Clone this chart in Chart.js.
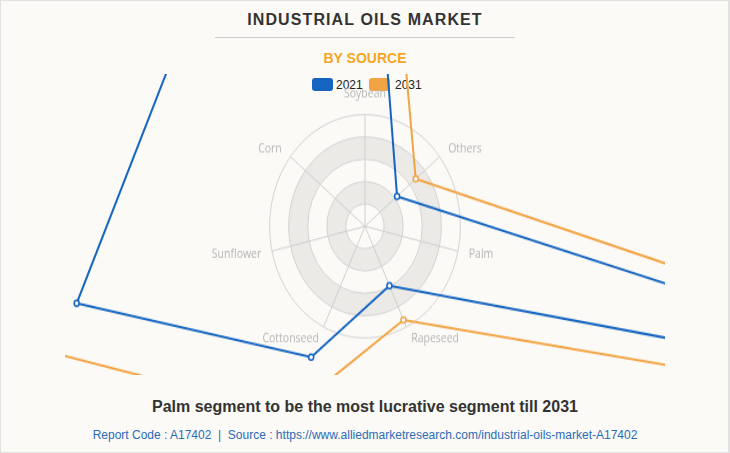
<!DOCTYPE html>
<html>
<head>
<meta charset="utf-8">
<script src="https://cdn.jsdelivr.net/npm/chart.js@4"></script>
<style>
  html, body { margin: 0; padding: 0; }
  body { width: 730px; height: 453px; background: #fbfaf6; font-family: Arial, "Liberation Sans", sans-serif; position: relative; overflow: hidden; }
  .frame { position: absolute; left: 0; top: 0; width: 727px; height: 451px; border: 1px solid #e2e2e2; border-right-width: 2px; }
  .title { position: absolute; left: 0; width: 730px; top: 11px; text-align: center; font-size: 16px; font-weight: bold; letter-spacing: 1.1px; color: #333; }
  .rule { position: absolute; left: 215px; width: 300px; top: 37px; border-top: 1px solid #ccc; }
  .sub { position: absolute; left: 0; width: 730px; top: 50px; text-align: center; font-size: 14px; font-weight: bold; color: #f5a623; }
  .legend { position: absolute; top: 78px; left: 312px; font-size: 12px; color: #222; }
  .legend span { position: absolute; white-space: nowrap; }
  .legend i { position: absolute; width: 21px; height: 13px; border-radius: 3px; }
  #chart { position: absolute; left: 65px; top: 74px; }
  .foot { position: absolute; left: 0; width: 730px; top: 398px; text-align: center; font-size: 16px; font-weight: bold; color: #333; }
  .src { position: absolute; left: 0; width: 730px; top: 428px; text-align: center; font-size: 12px; color: #2a6bb8; }
</style>
</head>
<body>
<div class="frame"></div>
<div class="title">INDUSTRIAL OILS MARKET</div>
<div class="rule"></div>
<div class="sub">BY SOURCE</div>
<div class="legend">
  <i style="left:0;top:0;background:#1565c0"></i><span style="left:24px;top:0">2021</span>
  <i style="left:57px;top:0;background:#f2a444"></i><span style="left:83px;top:0">2031</span>
</div>
<canvas id="chart" width="600" height="257" style="width:600px;height:301px"></canvas>
<div class="foot">Palm segment to be the most lucrative segment till 2031</div>
<div class="src">Report Code : A17402&nbsp; |&nbsp; Source : https://www.alliedmarketresearch.com/industrial-oils-market-A17402</div>

<script>
const sources = ['Soybean', 'Others', 'Palm', 'Rapeseed', 'Cottonseed', 'Sunflower', 'Corn'];
const values2021 = [403, 43, 750, 59, 130, 310, 254];
const values2031 = [554, 68, 975, 93, 186, 424, 420];
const ringTicks = [0, 20, 40, 60, 80, 100];

// shaded bands between alternate rings
const bands = {
  id: 'bands',
  beforeDraw(chart) {
    const r = chart.scales.r;
    const ctx = chart.ctx;
    ctx.save();
    ctx.fillStyle = '#ebeae7';
    [[20, 40], [60, 80]].forEach(function (b) {
      const inner = r.getDistanceFromCenterForValue(b[0]);
      const outer = r.getDistanceFromCenterForValue(b[1]);
      ctx.beginPath();
      ctx.arc(r.xCenter, r.yCenter, outer, 0, Math.PI * 2);
      ctx.arc(r.xCenter, r.yCenter, inner, 0, Math.PI * 2, true);
      ctx.fill();
    });
    ctx.restore();
  }
};

const ctx = document.getElementById('chart').getContext('2d');
const myChart = new Chart(ctx, {
  type: 'radar',
  data: {
    labels: sources,
    datasets: [{
      label: '2021',
      data: values2021,
      borderColor: '#1565c0',
      backgroundColor: 'transparent',
      borderWidth: 2,
      pointRadius: 2.5,
      pointBorderWidth: 1.5,
      pointBackgroundColor: '#ffffff',
      pointBorderColor: '#1565c0',
      clip: false,
      fill: false
    }, {
      label: '2031',
      data: values2031,
      borderColor: '#f2a444',
      backgroundColor: 'transparent',
      borderWidth: 2,
      pointRadius: 2.5,
      pointBorderWidth: 1.5,
      pointBackgroundColor: '#ffffff',
      pointBorderColor: '#f2a444',
      clip: false,
      fill: false
    }]
  },
  options: {
    responsive: false,
    devicePixelRatio: 1,
    animation: false,
    layout: { padding: { top: -5, bottom: 19 } },
    plugins: {
      legend: { display: false },
      tooltip: { enabled: false }
    },
    scales: {
      r: {
        min: ringTicks[0],
        max: ringTicks[ringTicks.length - 1],
        ticks: { stepSize: 20, display: false },
        grid: { circular: true, color: '#d2d2d2' },
        angleLines: { color: '#cfcfcf' },
        pointLabels: {
          padding: 11,
          color: '#b5b5b5',
          // labels other than the top one sit centred on their spoke
          font: function (c) {
            return { family: 'Open Sans', size: 10.5, lineHeight: c.index === 0 ? 1.2 : 0.01 };
          }
        }
      }
    }
  },
  plugins: [bands]
});
</script>
</body>
</html>
